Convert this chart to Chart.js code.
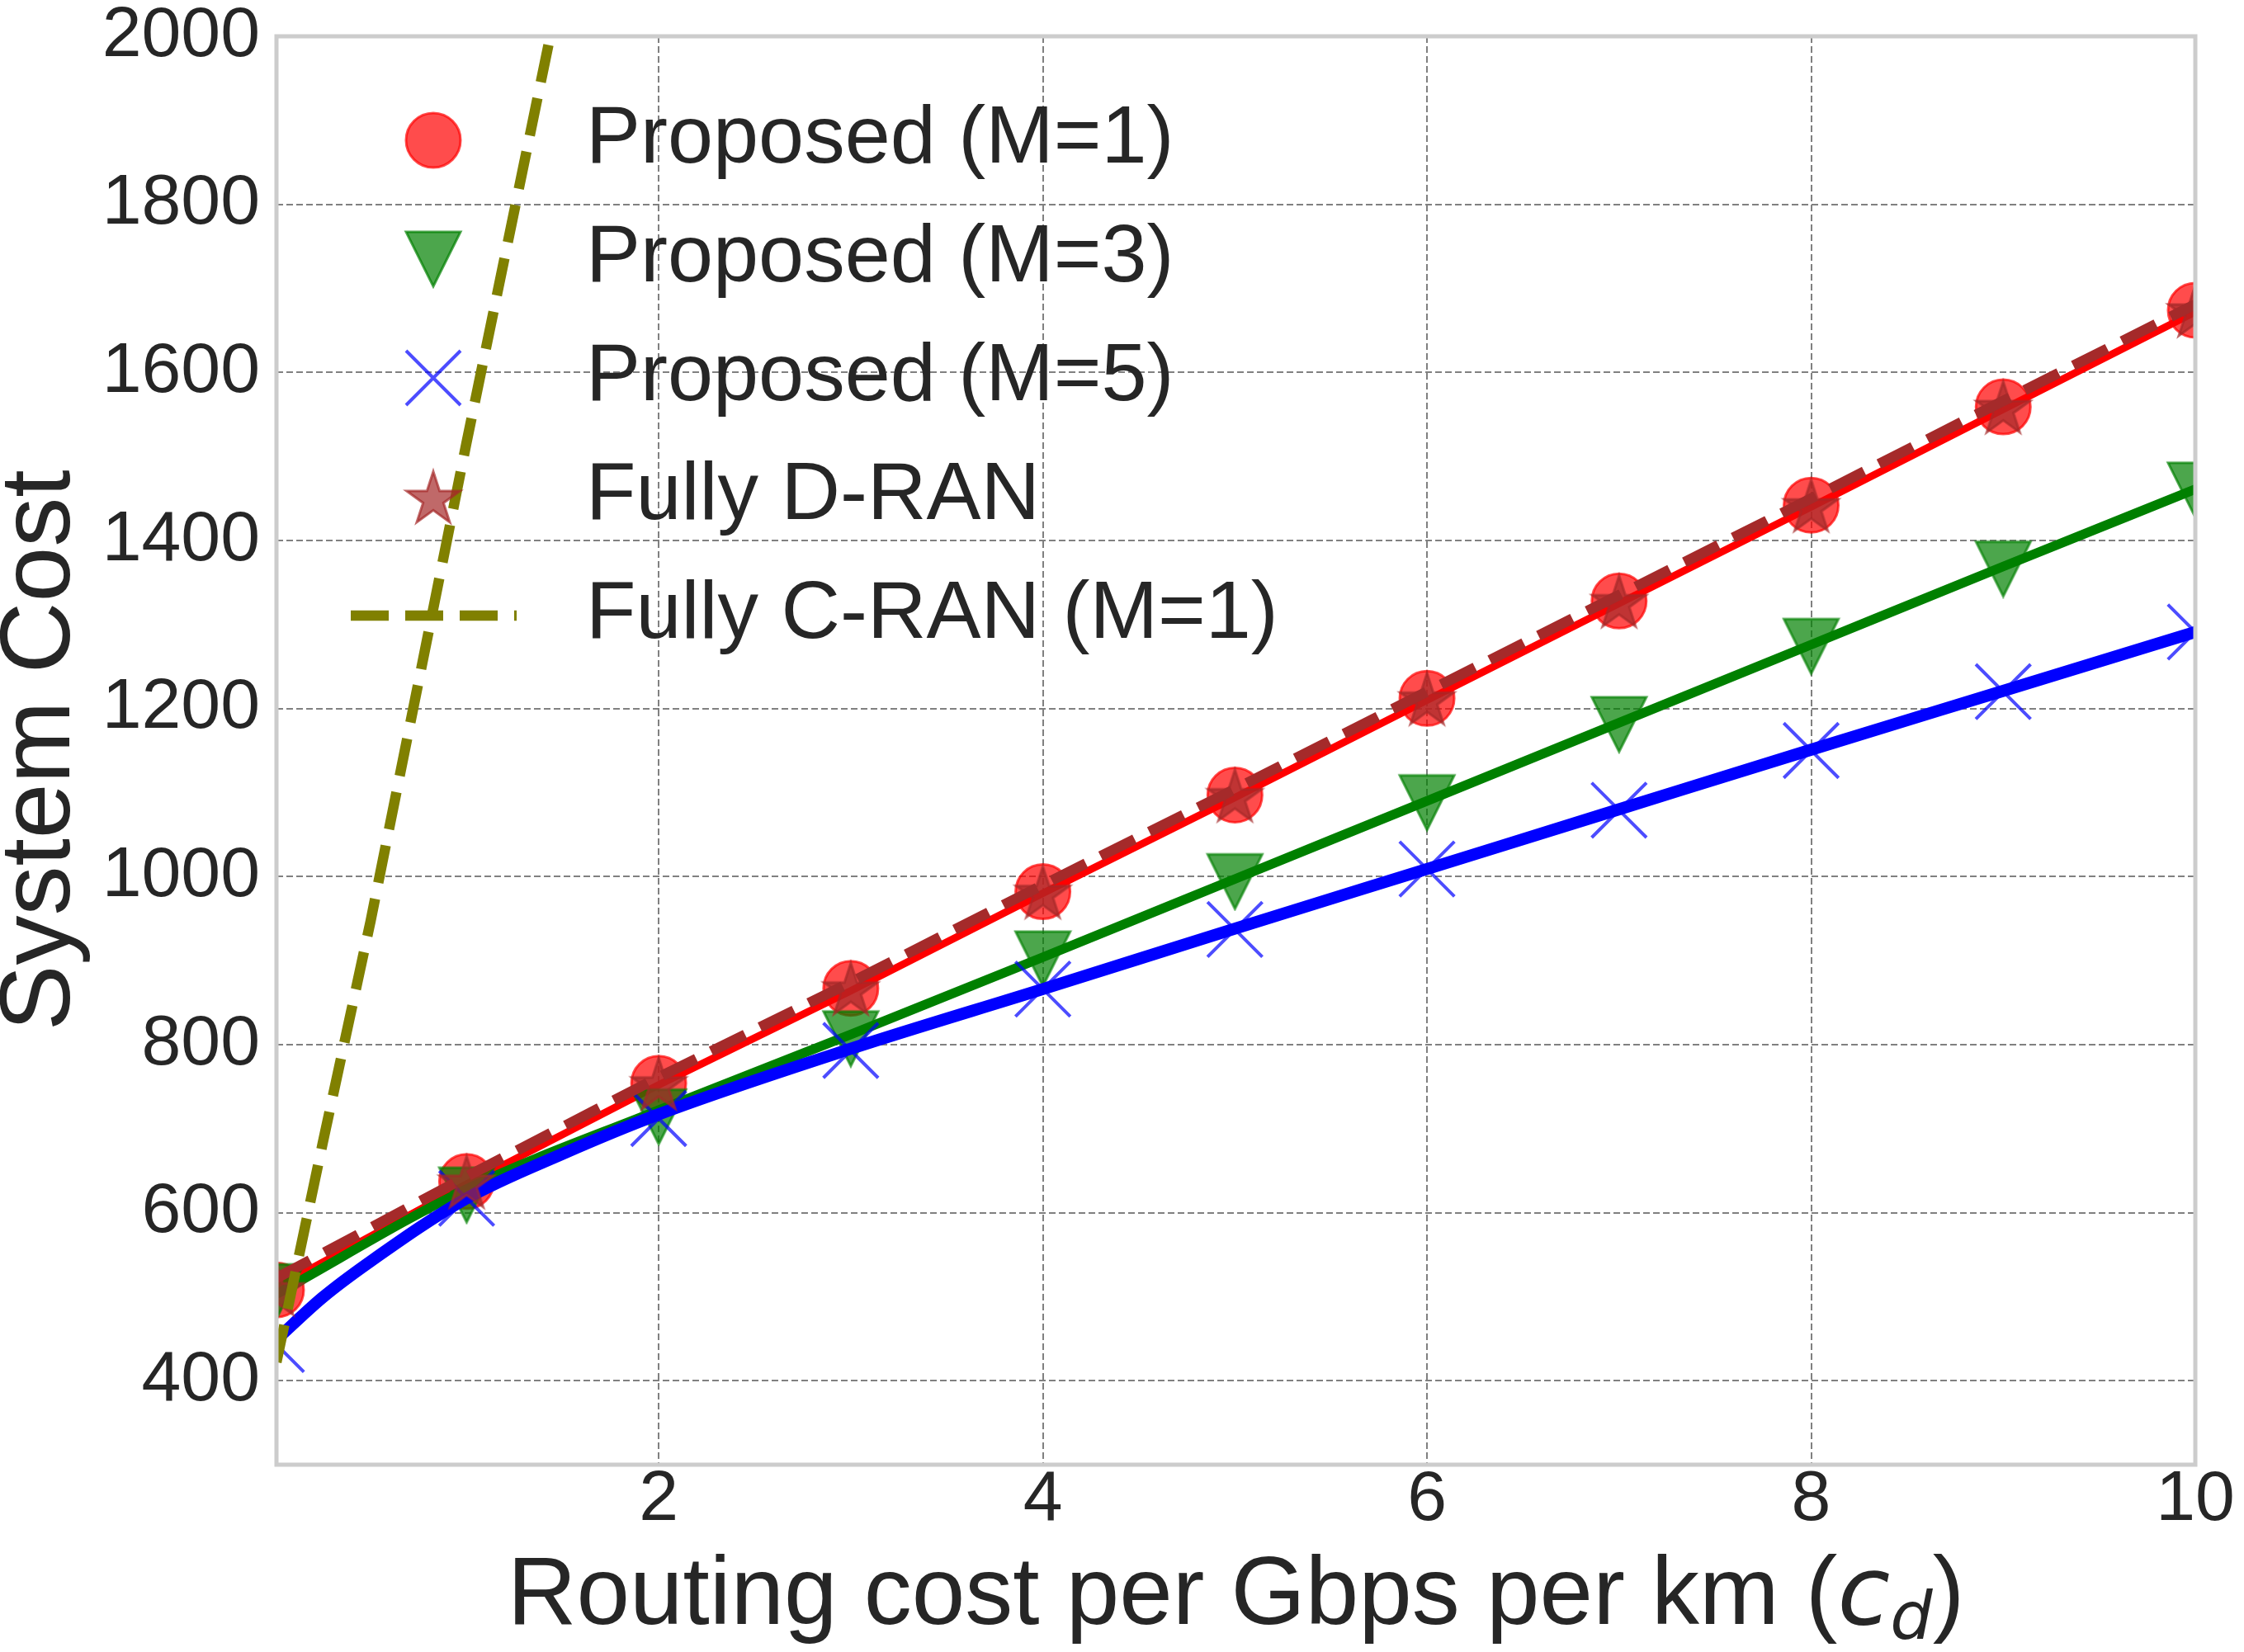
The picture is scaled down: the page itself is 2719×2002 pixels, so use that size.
<!DOCTYPE html>
<html>
<head>
<meta charset="utf-8">
<script src="https://cdn.jsdelivr.net/npm/chart.js@4.4.1/dist/chart.umd.min.js"></script>
<style>
  html, body { margin: 0; padding: 0; background: #fff; }
  #wrap { width: 2719px; height: 2002px; }
</style>
</head>
<body>
<div id="wrap"><canvas id="chart" width="2719" height="2002"></canvas></div>
<script>
// ---- data ----
const seriesNames = ["Proposed (M=1)", "Proposed (M=3)", "Proposed (M=5)", "Fully D-RAN", "Fully C-RAN (M=1)"];

// markers at integer routing costs
const xMarks   = [0.01, 1, 2, 3, 4, 5, 6, 7, 8, 9, 10];
const m1Marks  = [508, 637, 754, 867, 982, 1097, 1212, 1328, 1442, 1559, 1674];
const m3Marks  = [506, 621, 714, 807, 902, 994, 1088, 1181, 1274, 1366, 1460];
const m5Marks  = [443, 617, 712, 793, 866, 937, 1009, 1079, 1150, 1220, 1291];
const dranMarks = [509, 637, 754, 867, 982, 1097, 1212, 1328, 1442, 1559, 1674];

// curves
const xLine    = [0.01, 1, 2, 3, 4, 5, 6, 7, 8, 9, 10];
const m1Line   = [511, 634, 752, 864, 980, 1094, 1210, 1325, 1440, 1556, 1672];
const m3Line   = [503, 628, 722, 812, 904, 997, 1090, 1183, 1276, 1369, 1461];
const dranLine = [522, 643, 761, 874, 990, 1104, 1220, 1335, 1450, 1566, 1681];
const xM5Line  = [0.01, 0.25, 0.5, 1, 1.5, 2, 3, 4, 5, 6, 7, 8, 9, 10];
const m5Line   = [449, 499, 542, 617, 670, 717, 795, 866, 938, 1009, 1080, 1151, 1221, 1291];
const xCran    = [0.01, 0.25, 0.5, 1, 1.5];
const cranLine = [422, 682, 947, 1517, 2072];

const xTicks = [2, 4, 6, 8, 10];
const yTicks = [400, 600, 800, 1000, 1200, 1400, 1600, 1800, 2000];

const pts = (xs, ys) => xs.map((x, i) => ({ x: x, y: ys[i] }));

// matplotlib-like marker images
function makeTriangle(size, fill, edge, lw) {
  const c = document.createElement("canvas");
  c.width = size + lw * 2; c.height = size + lw * 2;
  const g = c.getContext("2d");
  g.beginPath();
  g.moveTo(lw, lw);
  g.lineTo(lw + size, lw);
  g.lineTo(lw + size / 2, lw + size);
  g.closePath();
  g.fillStyle = fill; g.fill();
  g.lineWidth = lw; g.strokeStyle = edge; g.lineJoin = "miter"; g.stroke();
  return c;
}
function makeStar(R, fill, edge, lw) {
  const c = document.createElement("canvas");
  const s = Math.ceil(2 * R + lw * 2 + 4);
  c.width = s; c.height = s;
  const g = c.getContext("2d");
  const cx = s / 2, cy = s / 2 + R * 0.1;
  const r = R * 0.381966;
  g.beginPath();
  for (let i = 0; i < 10; i++) {
    const rad = i % 2 === 0 ? R : r;
    const a = -Math.PI / 2 + i * Math.PI / 5;
    const px = cx + rad * Math.cos(a), py = cy + rad * Math.sin(a);
    if (i === 0) g.moveTo(px, py); else g.lineTo(px, py);
  }
  g.closePath();
  g.fillStyle = fill; g.fill();
  g.lineWidth = lw; g.strokeStyle = edge; g.stroke();
  return c;
}
const triImg  = makeTriangle(66, "rgba(0,128,0,0.7)", "rgba(0,128,0,0.7)", 3);
const starImg = makeStar(34, "rgba(165,42,42,0.7)", "rgba(165,42,42,0.7)", 3);

const FONT = "'Liberation Sans', Arial, Helvetica, sans-serif";
const INK = "#262626";

// frame (spines) drawn over the data like matplotlib
const framePlugin = {
  id: "frame",
  afterDatasetsDraw(chart) {
    const { ctx, chartArea: a } = chart;
    ctx.save();
    ctx.setLineDash([]);
    ctx.strokeStyle = "#cccccc";
    ctx.lineWidth = 5;
    ctx.strokeRect(a.left, a.top, a.right - a.left, a.bottom - a.top);
    ctx.restore();
  }
};

// legend without frame, upper left inside the axes
const legendPlugin = {
  id: "mplLegend",
  afterDraw(chart) {
    const ctx = chart.ctx;
    const mx = 525, tx = 710, y0 = 170, dy = 144;
    ctx.save();
    ctx.font = "99px " + FONT;
    ctx.textBaseline = "middle";
    ctx.textAlign = "left";
    seriesNames.forEach((name, i) => {
      ctx.fillStyle = INK;
      ctx.fillText(name, tx, y0 + i * dy);
    });
    // circle
    let y = y0;
    ctx.beginPath(); ctx.arc(mx, y, 33, 0, Math.PI * 2);
    ctx.fillStyle = "rgba(255,0,0,0.7)"; ctx.fill();
    ctx.lineWidth = 3; ctx.strokeStyle = "rgba(255,0,0,0.7)"; ctx.stroke();
    // triangle
    y = y0 + dy;
    ctx.drawImage(triImg, mx - triImg.width / 2, y - triImg.height / 2);
    // x
    y = y0 + 2 * dy;
    ctx.beginPath();
    ctx.moveTo(mx - 33, y - 33); ctx.lineTo(mx + 33, y + 33);
    ctx.moveTo(mx - 33, y + 33); ctx.lineTo(mx + 33, y - 33);
    ctx.lineWidth = 4; ctx.strokeStyle = "rgba(0,0,255,0.7)"; ctx.stroke();
    // star
    y = y0 + 3 * dy;
    ctx.drawImage(starImg, mx - starImg.width / 2, y - starImg.height / 2);
    // dashed line
    y = y0 + 4 * dy;
    ctx.beginPath();
    ctx.setLineDash([46, 20]);
    ctx.moveTo(425, y); ctx.lineTo(626, y);
    ctx.lineWidth = 12.5; ctx.strokeStyle = "#808000"; ctx.lineCap = "butt";
    ctx.stroke();
    ctx.restore();
  }
};

// x-axis title with math-italic c_d
const xTitlePlugin = {
  id: "xTitle",
  afterDraw(chart) {
    const ctx = chart.ctx;
    const a = chart.chartArea;
    const parts = [
      { t: "Routing cost per Gbps per km (", f: "116px " + FONT, dy: 0 },
      { t: "c", f: "italic 116px 'DejaVu Sans'", dy: 0 },
      { t: "d", f: "italic 81px 'DejaVu Sans'", dy: 18 },
      { t: ")", f: "116px " + FONT, dy: 0 }
    ];
    ctx.save();
    let w = 0;
    parts.forEach(p => { ctx.font = p.f; p.w = ctx.measureText(p.t).width; w += p.w; });
    let x = (a.left + a.right) / 2 - w / 2;
    const base = 1968;
    ctx.fillStyle = INK;
    ctx.textBaseline = "alphabetic";
    ctx.textAlign = "left";
    parts.forEach(p => { ctx.font = p.f; ctx.fillText(p.t, x, base + p.dy); x += p.w; });
    ctx.restore();
  }
};

const lineDs = (label, xs, ys, color, width, order, extra) => Object.assign({
  label: label, data: pts(xs, ys), showLine: true, pointRadius: 0,
  borderColor: color, borderWidth: width, fill: false, order: order, clip: 0,
  borderCapStyle: "butt"
}, extra || {});

const markDs = (label, xs, ys, order, extra) => Object.assign({
  label: label, data: pts(xs, ys), showLine: false, order: order, clip: 0
}, extra);

new Chart(document.getElementById("chart"), {
  type: "scatter",
  data: {
    datasets: [
      lineDs(seriesNames[4], xCran, cranLine, "#808000", 12.5, 1, { borderDash: [46, 20] }),
      lineDs(seriesNames[3] + " line", xLine, dranLine, "#a52a2a", 12.5, 2, { borderDash: [46, 20] }),
      markDs(seriesNames[3], xMarks, dranMarks, 3, { pointStyle: starImg, pointRadius: 34 }),
      markDs(seriesNames[2], xMarks, m5Marks, 4, {
        pointStyle: "crossRot", pointRadius: 47, pointBorderWidth: 4,
        pointBorderColor: "rgba(0,0,255,0.7)", pointBackgroundColor: "rgba(0,0,255,0.7)"
      }),
      lineDs(seriesNames[2] + " line", xM5Line, m5Line, "#0000ff", 14.5, 5, { cubicInterpolationMode: "monotone" }),
      markDs(seriesNames[1], xMarks, m3Marks, 6, { pointStyle: triImg, pointRadius: 34 }),
      lineDs(seriesNames[1] + " line", xLine, m3Line, "#008000", 11.5, 7, { cubicInterpolationMode: "monotone" }),
      markDs(seriesNames[0], xMarks, m1Marks, 8, {
        pointStyle: "circle", pointRadius: 33, pointBorderWidth: 3,
        pointBackgroundColor: "rgba(255,0,0,0.7)", pointBorderColor: "rgba(255,0,0,0.7)"
      }),
      lineDs(seriesNames[0] + " line", xLine, m1Line, "#ff0000", 9, 9)
    ]
  },
  options: {
    responsive: false,
    devicePixelRatio: 1,
    animation: false,
    events: [],
    layout: { autoPadding: false, padding: { top: 44, right: 59, left: 0, bottom: 0 } },
    plugins: { legend: { display: false }, tooltip: { enabled: false } },
    scales: {
      x: {
        type: "linear", min: 0.01, max: 10,
        afterBuildTicks: s => { s.ticks = xTicks.map(v => ({ value: v })); },
        afterFit: s => { s.height = 227; },
        grid: { color: "#808080", lineWidth: 2, drawTicks: false },
        border: { display: false, dash: [8, 4] },
        ticks: {
          color: INK, padding: 0, maxRotation: 0, autoSkip: false,
          font: { family: FONT, size: 86, lineHeight: 1 },
          callback: v => String(v)
        },
        title: { display: false }
      },
      y: {
        type: "linear", min: 300, max: 2000,
        afterBuildTicks: s => { s.ticks = yTicks.map(v => ({ value: v })); },
        afterFit: s => { s.width = 335; s.paddingTop = 0; s.paddingBottom = 0; },
        grid: { color: "#808080", lineWidth: 2, drawTicks: false },
        border: { display: false, dash: [8, 4] },
        ticks: {
          color: INK, padding: 20, autoSkip: false,
          font: { family: FONT, size: 86, lineHeight: 0.5 },
          callback: v => String(v)
        },
        title: {
          display: true, text: "System Cost", color: INK,
          font: { family: FONT, size: 120, lineHeight: 1 },
          padding: { top: -9, bottom: 0 }
        }
      }
    }
  },
  plugins: [framePlugin, legendPlugin, xTitlePlugin]
});
</script>
</body>
</html>
